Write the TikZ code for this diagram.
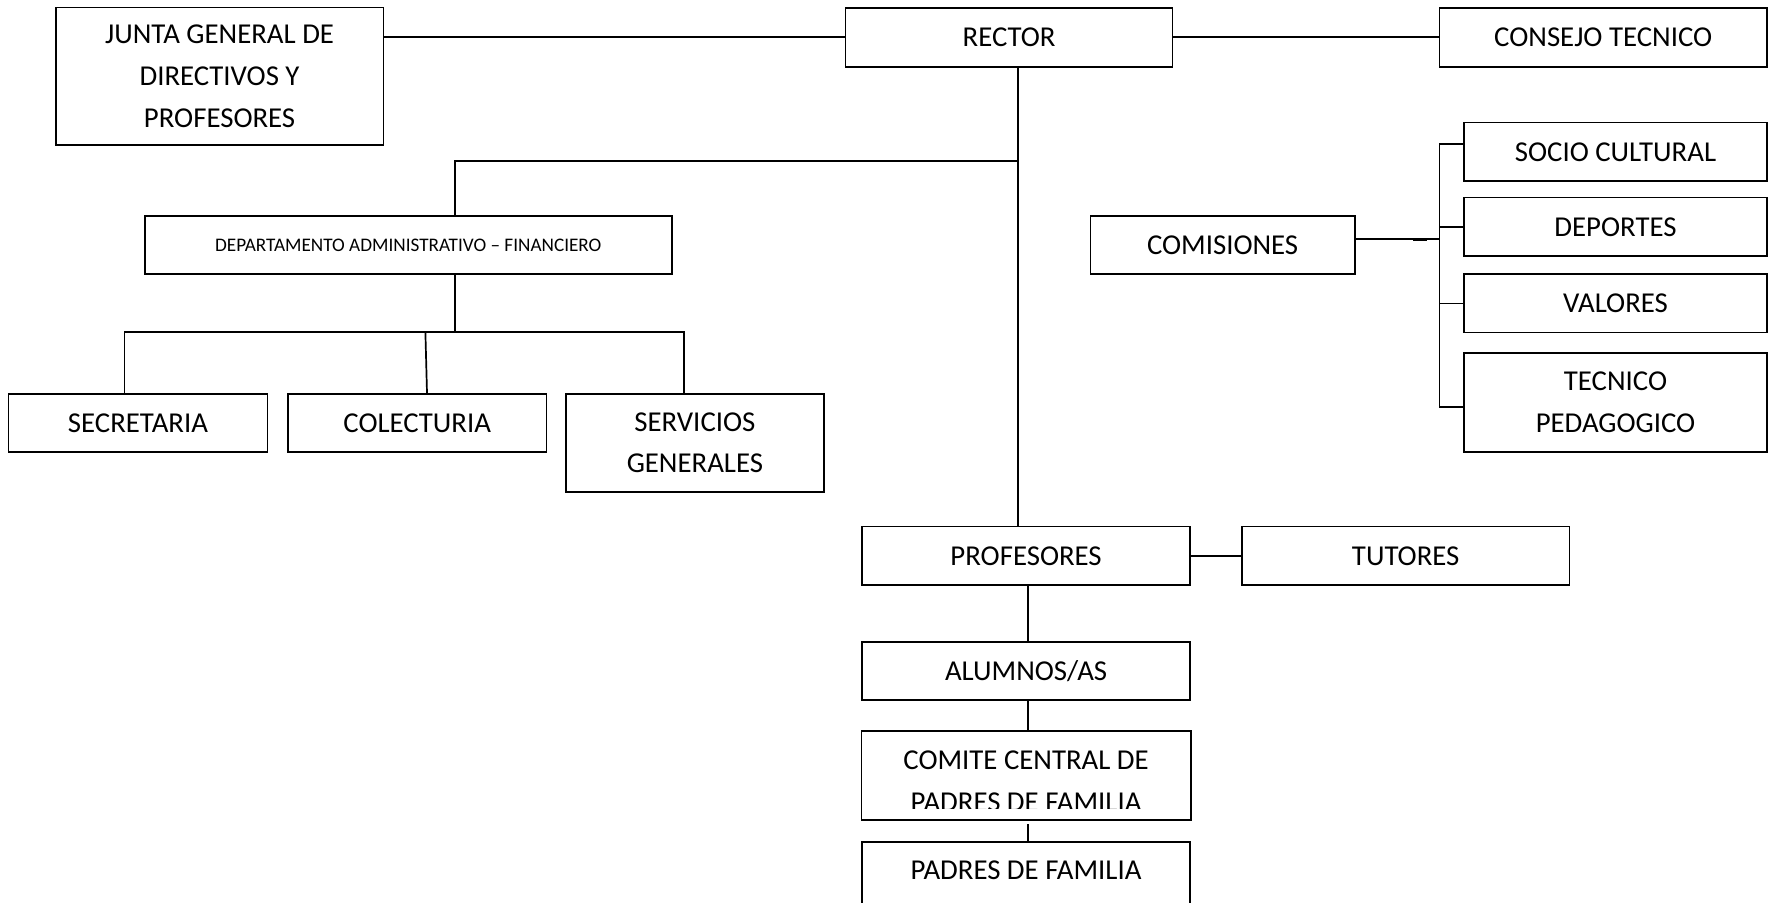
\documentclass[tikz,border=0pt]{standalone}
\usepackage{fontspec}
\setmainfont{Carlito}
\begin{document}
\begin{tikzpicture}
		[x=0.5pt,y=-0.5pt,
		box/.style={draw,line width=0.85pt,inner sep=0pt,align=center,
font=\fontsize{14.4pt}{20.85pt}\selectfont},
		boxsize/.style 2 args={minimum width=#1*0.5pt,minimum height=#2*0.5pt},
		smalltext/.style={font=\fontsize{9.6pt}{12pt}\selectfont},
		every edge/.style={draw,-,line width=0.85pt},
		connector/.style={-,line width=0.85pt}]
		\useasboundingbox (0,0) rectangle (1768,903);
		% top row
		\node at (1009.1, 37.2) (rector) [box,boxsize={327}{59}] {RECTOR};
		\node at (219.6, 76.3) (junta) [box,boxsize={327.8}{137.3}] {JUNTA GENERAL DE\\DIRECTIVOS Y\\PROFESORES};
		\node at (1603.2, 37.2) (consejo) [box,boxsize={327.3}{59}] {CONSEJO TECNICO}
			edge (rector);
		\draw[connector] (rector.west -| junta.east) -- (rector.west);
		% administrative branch
		\node at (408.3, 245) (dept) [box,smalltext,boxsize={527.3}{58.6}] {DEPARTAMENTO ADMINISTRATIVO -- FINANCIERO};
		\node at (138, 423) (secretaria) [box,boxsize={258.9}{58.6}] {SECRETARIA};
		\node at (417.2, 423) (colecturia) [box,boxsize={258.5}{58.6}] {COLECTURIA};
		\node at (694.9, 442.7) (servicios) [box,boxsize={257.8}{98}] {SERVICIOS\\GENERALES};
		% commissions
		\node at (1222.6, 245) (comisiones) [box,boxsize={264.1}{58.6}] {COMISIONES};
		\node at (1615.5, 151.8) (socio) [box,boxsize={303}{58.3}] {SOCIO CULTURAL};
		\node at (1615.5, 226.8) (deportes) [box,boxsize={303}{58.3}] {DEPORTES};
		\node at (1615.5, 303.5) (valores) [box,boxsize={303}{58.3}] {VALORES};
		\node at (1615.5, 402.5) (tecnico) [box,boxsize={303}{99}] {TECNICO\\PEDAGOGICO};
		% lower column
		\node at (1026.1, 555.8) (profesores) [box,boxsize={327.7}{58.3}] {PROFESORES};
		\node at (1405.7, 555.8) (tutores) [box,boxsize={327.5}{58.3}] {TUTORES}
			edge (profesores);
		\node at (1026.1, 671) (alumnos) [box,boxsize={327.7}{58}] {ALUMNOS/AS};
		\begin{scope}
			\clip (850,730) rectangle (1200,808);
			\node at (1026.1, 781) (comite) [box,draw=none,boxsize={327.7}{98}] {COMITE CENTRAL DE\\PADRES DE FAMILIA};
		\end{scope}
		\coordinate (comitebot) at (1026.1, 820);
		\draw[connector] (comite.north west) rectangle (comitebot -| comite.east);
		\node at (1026.1, 891) (padres) [box,boxsize={327.7}{98}] {PADRES DE FAMILIA\\\mbox{}};
		% trunk lines
		\coordinate (trunk) at (1018, 161);
		\coordinate (depttap) at (455, 161);
		\draw[connector] (trunk |- rector.south) -- (trunk |- profesores.north);
		\draw[connector] (trunk) -- (depttap) -- (depttap |- dept.north);
		\coordinate (adminbus) at (455, 332.3);
		\coordinate (busl) at (124.6, 332.3);
		\coordinate (busr) at (683.7, 332.3);
		\coordinate (coltap) at (425.4, 332.3);
		\draw[connector] (adminbus |- dept.south) -- (adminbus);
		\draw[connector] (busl |- secretaria.north) -- (busl) -- (busr) -- (busr |- servicios.north);
		\draw[connector] (coltap) -- (427,0 |- colecturia.north);
		\coordinate (combus) at (1439.6, 239);
		\coordinate (combustop) at (1439.6, 144.3);
		\coordinate (combusbot) at (1439.6, 407.3);
		\draw[connector] (combus -| comisiones.east) -- (combus);
		\draw[line width=1.2pt] (1413,239.6) -- (1427,239.6);
		\draw[connector] (combustop -| socio.west) -- (combustop) -- (combusbot) -- (combusbot -| tecnico.west);
		\draw[connector] (combustop |- deportes.west) -- (deportes.west);
		\draw[connector] (combustop |- valores.west) -- (valores.west);
		\coordinate (lowtrunk) at (1028, 0);
		\draw[connector] (lowtrunk |- profesores.south) -- (lowtrunk |- alumnos.north);
		\draw[connector] (lowtrunk |- alumnos.south) -- (lowtrunk |- comite.north);
		\draw[connector] ([yshift=-2pt]lowtrunk |- comitebot) -- (lowtrunk |- padres.north);
\end{tikzpicture}
\end{document}
